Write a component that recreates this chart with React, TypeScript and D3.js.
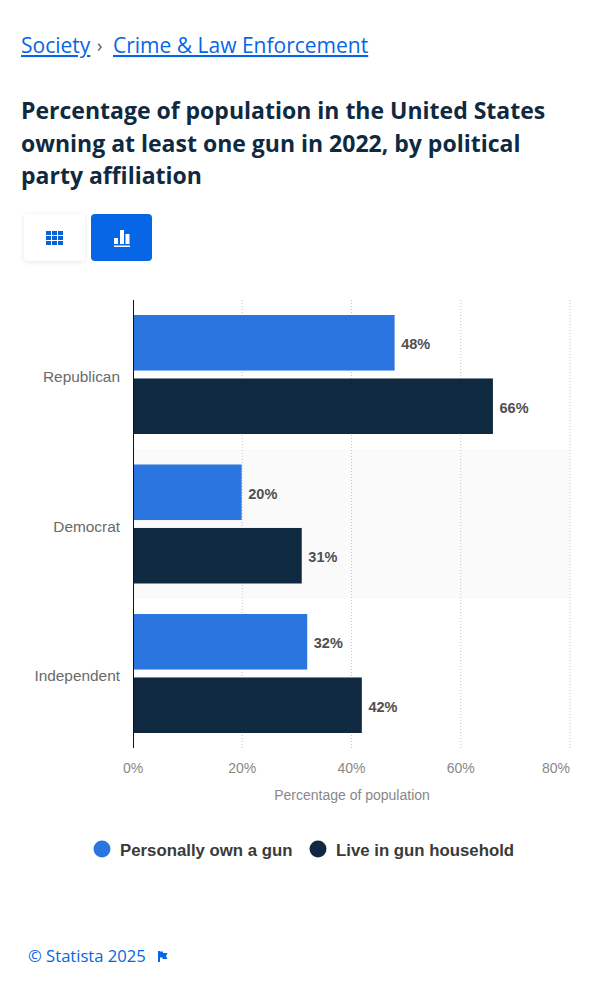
import React from "react";
import * as d3 from "d3";

const categories = ["Republican", "Democrat", "Independent"];
const seriesNames = ["Personally own a gun", "Live in gun household"];
const ownGun = [48, 20, 32];
const household = [66, 31, 42];
const xTicks = [0, 20, 40, 60, 80];
const seriesColors = ["#2a75e0", "#0f2a40"];

const sans = "Arial, 'Liberation Sans', sans-serif";
const open = "'Open Sans', sans-serif";

export default function App() {
  const x = d3.scaleLinear().domain([0, 80]).range([133, 570]);
  const y = d3.scaleBand().domain(categories).range([300, 748.5]).paddingInner(0).paddingOuter(0);
  const inner = d3.scaleBand().domain(["0", "1"]).range([15, 134]).paddingInner(0.125);
  const rows = [ownGun, household];
  return (
    <svg width={598} height={1000} style={{ position: "absolute", left: 0, top: 0, background: "#fff" }}>
      <defs>
        <filter id="sh" x="-30%" y="-30%" width="160%" height="160%">
          <feDropShadow dx="0" dy="1" stdDeviation="2.5" floodColor="#000" floodOpacity="0.1" />
        </filter>
      </defs>
      <text x={21} y={53} fontFamily={open} fontSize={21} fill="#0666e5" textDecoration="underline">Society</text>
      <text x={97} y={52} fontFamily={open} fontSize={18} fill="#4a5a68">›</text>
      <text x={113} y={53} fontFamily={open} fontSize={21} fill="#0666e5" textDecoration="underline">Crime &amp; Law Enforcement</text>
      {["Percentage of population in the United States", "owning at least one gun in 2022, by political", "party affiliation"].map((t, i) => (
        <text key={t} x={21} y={119 + i * 32.5} fontFamily={open} fontWeight={700} fontSize={23} fill="#0f2a40">{t}</text>
      ))}

      <rect x={24} y={214} width={61} height={47} rx={4} fill="#fff" filter="url(#sh)" />
      <rect x={91} y={214} width={61} height={47} rx={4} fill="#0666e5" />
      {d3.range(3).flatMap(r => d3.range(3).map(c => (
        <rect key={`${r}-${c}`} x={46 + c * 6} y={231 + r * 5} width={5} height={4} fill="#0b62d6" />
      )))}
      <g fill="#fff">
        <rect x={114} y={238} width={4} height={6} />
        <rect x={120} y={230} width={4} height={14} />
        <rect x={125.5} y={234} width={4} height={10} />
        <rect x={114} y={245.5} width={16} height={1.5} />
      </g>

      <rect x={133} y={y("Democrat")!} width={437} height={y.bandwidth()} fill="#fafafa" />
      {xTicks.slice(1).map(t => (
        <line key={t} x1={x(t)} x2={x(t)} y1={300} y2={748} stroke="#c4c4c4" strokeDasharray="1 2" />
      ))}
      {categories.map((c, i) => (
        <g key={c}>
          <text x={120} y={y(c)! + 82} textAnchor="end" fontFamily={sans} fontSize={15.4} fill="#6a6a6a">{c}</text>
          {rows.map((row, s) => {
            const top = y(c)! + inner(String(s))!;
            return (
              <g key={s}>
                <rect x={x(0)} y={top} width={x(row[i]) - x(0) - 0.6} height={inner.bandwidth()} fill={seriesColors[s]} />
                <text x={x(row[i]) + 6} y={top + inner.bandwidth() / 2 + 6.5} fontFamily={sans} fontWeight={700} fontSize={14.5} fill="#505050">{row[i]}%</text>
              </g>
            );
          })}
        </g>
      ))}
      <line x1={133.5} x2={133.5} y1={300} y2={748} stroke="#111" strokeWidth={1} />
      {xTicks.map(t => (
        <text key={t} x={t === 80 ? 570 : x(t)} y={773} textAnchor={t === 80 ? "end" : "middle"} fontFamily={sans} fontSize={14} fill="#888">{t}%</text>
      ))}
      <text x={352} y={800} textAnchor="middle" fontFamily={sans} fontSize={14} fill="#888">Percentage of population</text>

      <circle cx={102} cy={849} r={8.5} fill={seriesColors[0]} />
      <text x={120} y={856} fontFamily={sans} fontWeight={700} fontSize={16.8} fill="#3a3a3a">{seriesNames[0]}</text>
      <circle cx={318} cy={849} r={8.5} fill={seriesColors[1]} />
      <text x={336} y={856} fontFamily={sans} fontWeight={700} fontSize={16.8} fill="#3a3a3a">{seriesNames[1]}</text>

      <text x={28} y={962} fontFamily={open} fontSize={16.6} fill="#0666e5">© Statista 2025</text>
      <path d="M158 951 h2 v0.5 h3 v1.5 h4.5 l-1.5 3 1.5 3 h-5 v-1.5 h-2.5 v4.5 h-2 z" fill="#0666e5" />
    </svg>
  );
}
